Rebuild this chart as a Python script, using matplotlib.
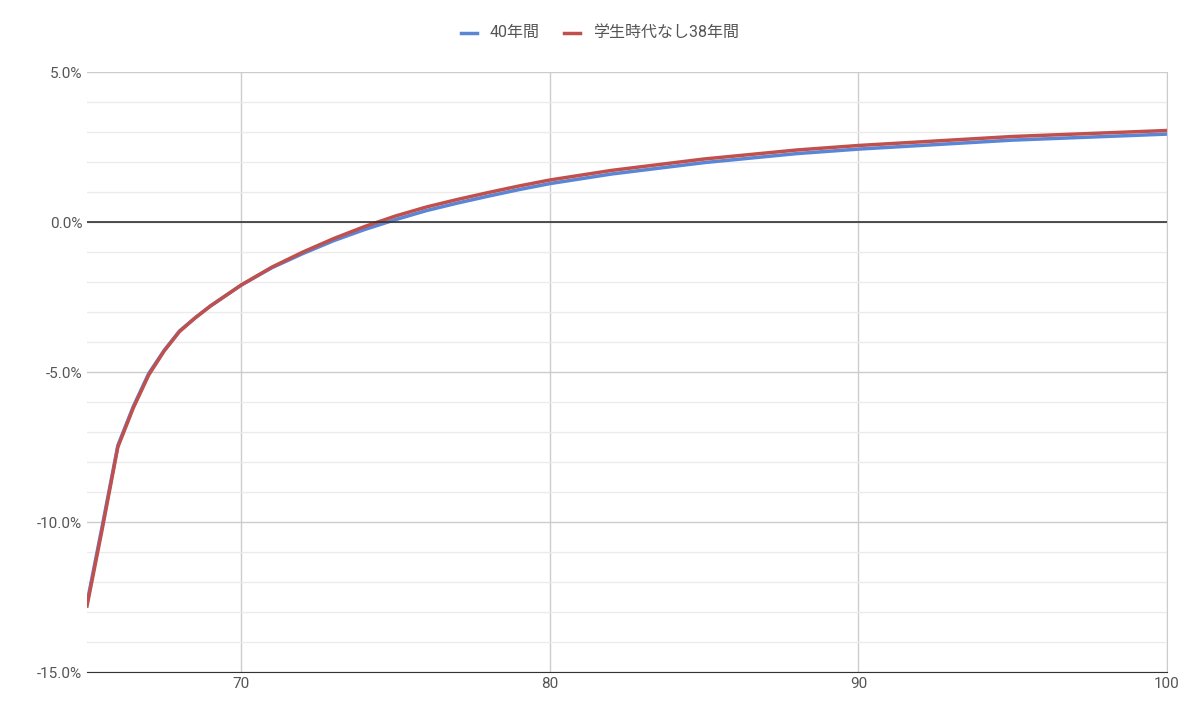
import matplotlib.pyplot as plt
from matplotlib.ticker import MultipleLocator, FuncFormatter

plt.rcParams['font.family'] = ['Roboto', 'Noto Sans CJK JP', 'DejaVu Sans']

age = [65, 65.5, 66, 66.5, 67, 67.5, 68, 68.5, 69, 70, 71, 72, 73, 74, 75, 76, 77, 78,
       79, 80, 82, 85, 88, 90, 95, 100]
red = [-12.8, -10.2, -7.5, -6.2, -5.1, -4.3, -3.65, -3.2, -2.8, -2.1, -1.5, -1.0, -0.55,
       -0.15, 0.2, 0.5, 0.75, 0.98, 1.2, 1.4, 1.72, 2.1, 2.4, 2.55, 2.85, 3.05]
blue = [-12.7, -10.1, -7.45, -6.15, -5.05, -4.28, -3.63, -3.2, -2.8, -2.1, -1.52, -1.05,
        -0.62, -0.25, 0.08, 0.38, 0.63, 0.86, 1.08, 1.28, 1.6, 1.98, 2.28, 2.43, 2.73, 2.93]

fig = plt.figure(figsize=(12, 7.22), dpi=100)
ax = fig.add_axes([87/1200, 50/722, 1080/1200, 600/722])
ax.plot(age, blue, color='#5b86d6', lw=2.5, label='40年間')
ax.plot(age, red, color='#c0504d', lw=2.5, label='学生時代なし38年間')
ax.axhline(0, color='#333333', lw=1.2)

ax.set_xlim(65, 100)
ax.set_ylim(-15, 5)
ax.set_xticks([70, 80, 90, 100])
ax.yaxis.set_major_locator(MultipleLocator(5))
ax.yaxis.set_minor_locator(MultipleLocator(1))
ax.yaxis.set_major_formatter(FuncFormatter(lambda v, p: f'{v:.1f}%'))
ax.grid(axis='y', which='major', color='#cccccc', lw=1)
ax.grid(axis='y', which='minor', color='#ebebeb', lw=1)
ax.grid(axis='x', which='major', color='#cccccc', lw=1)
ax.tick_params(which='both', length=0, labelsize=11, colors='#555555')
for s in ax.spines.values():
    s.set_visible(False)
ax.spines['bottom'].set_visible(True)
ax.spines['bottom'].set_color('#333333')
ax.spines['right'].set_visible(True)
ax.spines['right'].set_color('#cccccc')
ax.set_axisbelow(True)

fig.legend(loc='upper center', bbox_to_anchor=(0.5, 0.985), ncol=2, frameon=False,
           fontsize=11.5, handlelength=1, handleheight=0.3, columnspacing=1.5,
           labelcolor='#555555')
fig.savefig('out.png')
